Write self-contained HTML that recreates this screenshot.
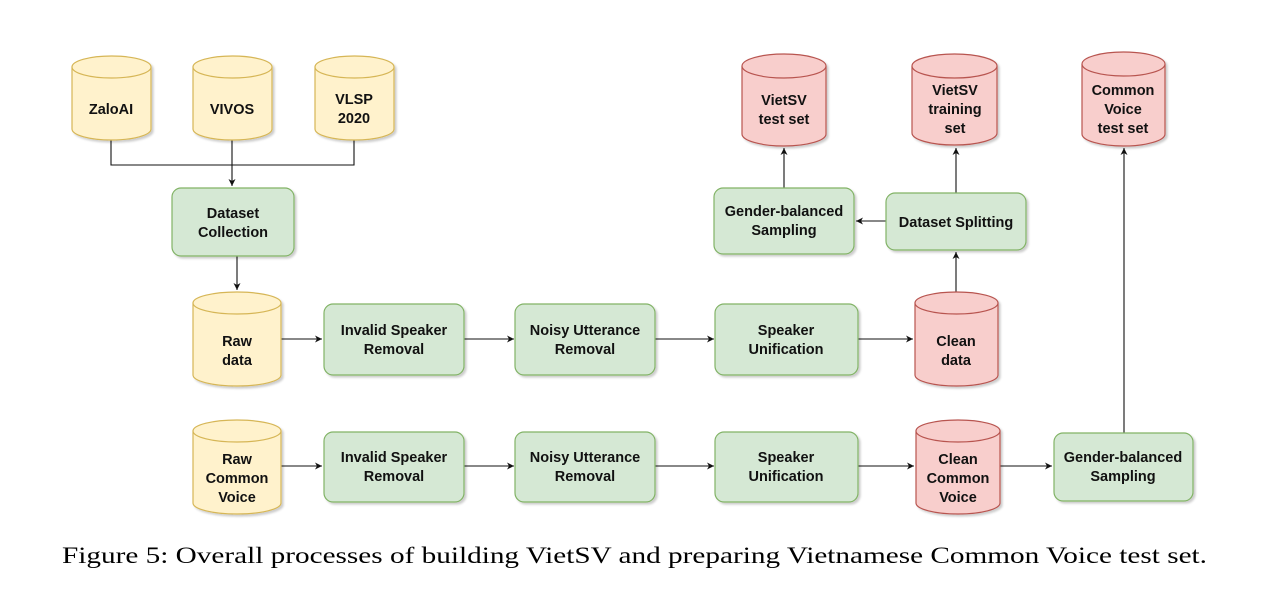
<!DOCTYPE html>
<html><head><meta charset="utf-8"><style>
html,body{margin:0;padding:0;background:#fff;}
svg{display:block;}
text{font-family:"Liberation Sans",Arial,Helvetica,sans-serif;font-weight:bold;font-size:14.5px;fill:#111;text-anchor:middle;}
.cap{font-family:"Liberation Serif","Times New Roman",serif;font-weight:normal;font-size:23px;text-anchor:start;fill:#000;}
.y{fill:#fff2cc;stroke:#d6b656;stroke-width:1.2}
.r{fill:#f8cecc;stroke:#b85450;stroke-width:1.2}
.g{fill:#d5e8d4;stroke:#82b366;stroke-width:1.2}
.l{stroke:#111;stroke-width:1.1;fill:none}
</style></head><body>
<svg width="1276" height="589" viewBox="0 0 1276 589" xmlns="http://www.w3.org/2000/svg">
<defs>
<marker id="a" markerWidth="8" markerHeight="8" refX="7" refY="4" orient="auto" markerUnits="userSpaceOnUse">
<path d="M0,0.5 L7,4 L0,7.5 L2,4 Z" fill="#111"/></marker>
<filter id="s" x="-10%" y="-10%" width="130%" height="130%"><feDropShadow dx="2" dy="2" stdDeviation="1" flood-color="#000" flood-opacity="0.2"/></filter>
</defs>

<path class="l" d="M111,140 V165 H354 V140"/>
<path class="l" d="M232,140 V186" marker-end="url(#a)"/>
<path class="l" d="M237,256 V290" marker-end="url(#a)"/>
<path class="l" d="M281,339 H322" marker-end="url(#a)"/>
<path class="l" d="M464,339 H514" marker-end="url(#a)"/>
<path class="l" d="M655,339 H714" marker-end="url(#a)"/>
<path class="l" d="M858,339 H913" marker-end="url(#a)"/>
<path class="l" d="M956,292 V252" marker-end="url(#a)"/>
<path class="l" d="M956,193 V148" marker-end="url(#a)"/>
<path class="l" d="M886,221 H856" marker-end="url(#a)"/>
<path class="l" d="M784,188 V148" marker-end="url(#a)"/>
<path class="l" d="M281,466 H322" marker-end="url(#a)"/>
<path class="l" d="M464,466 H514" marker-end="url(#a)"/>
<path class="l" d="M655,466 H714" marker-end="url(#a)"/>
<path class="l" d="M858,466 H914" marker-end="url(#a)"/>
<path class="l" d="M1000,466 H1052" marker-end="url(#a)"/>
<path class="l" d="M1124,433 V148" marker-end="url(#a)"/>

<g filter="url(#s)">
<path class="y" d="M72,67 A39.5,11 0 0 1 151,67 V129 A39.5,11 0 0 1 72,129 Z"/><path class="y" d="M72,67 A39.5,11 0 0 0 151,67"/>
<path class="y" d="M193,67 A39.5,11 0 0 1 272,67 V129 A39.5,11 0 0 1 193,129 Z"/><path class="y" d="M193,67 A39.5,11 0 0 0 272,67"/>
<path class="y" d="M315,67 A39.5,11 0 0 1 394,67 V129 A39.5,11 0 0 1 315,129 Z"/><path class="y" d="M315,67 A39.5,11 0 0 0 394,67"/>
<path class="y" d="M193,303 A44,11 0 0 1 281,303 V375 A44,11 0 0 1 193,375 Z"/><path class="y" d="M193,303 A44,11 0 0 0 281,303"/>
<path class="y" d="M193,431 A44,11 0 0 1 281,431 V503 A44,11 0 0 1 193,503 Z"/><path class="y" d="M193,431 A44,11 0 0 0 281,431"/>
<path class="r" d="M915,303 A41.5,11 0 0 1 998,303 V375 A41.5,11 0 0 1 915,375 Z"/><path class="r" d="M915,303 A41.5,11 0 0 0 998,303"/>
<path class="r" d="M916,431 A42,11 0 0 1 1000,431 V503 A42,11 0 0 1 916,503 Z"/><path class="r" d="M916,431 A42,11 0 0 0 1000,431"/>
<path class="r" d="M742,66 A42,12 0 0 1 826,66 V134 A42,12 0 0 1 742,134 Z"/><path class="r" d="M742,66 A42,12 0 0 0 826,66"/>
<path class="r" d="M912,66 A42.5,12 0 0 1 997,66 V133 A42.5,12 0 0 1 912,133 Z"/><path class="r" d="M912,66 A42.5,12 0 0 0 997,66"/>
<path class="r" d="M1082,64 A41.5,12 0 0 1 1165,64 V134 A41.5,12 0 0 1 1082,134 Z"/><path class="r" d="M1082,64 A41.5,12 0 0 0 1165,64"/>
<rect class="g" x="172" y="188" width="122" height="68" rx="9"/>
<rect class="g" x="324" y="304" width="140" height="71" rx="9"/>
<rect class="g" x="515" y="304" width="140" height="71" rx="9"/>
<rect class="g" x="715" y="304" width="143" height="71" rx="9"/>
<rect class="g" x="324" y="432" width="140" height="70" rx="9"/>
<rect class="g" x="515" y="432" width="140" height="70" rx="9"/>
<rect class="g" x="715" y="432" width="143" height="70" rx="9"/>
<rect class="g" x="1054" y="433" width="139" height="68" rx="9"/>
<rect class="g" x="714" y="188" width="140" height="66" rx="9"/>
<rect class="g" x="886" y="193" width="140" height="57" rx="9"/>
</g>

<text x="111" y="114">ZaloAI</text>
<text x="232" y="114">VIVOS</text>
<text x="354" y="104">VLSP</text><text x="354" y="123">2020</text>
<text x="233" y="218">Dataset</text><text x="233" y="237">Collection</text>
<text x="237" y="346">Raw</text><text x="237" y="365">data</text>
<text x="237" y="464">Raw</text><text x="237" y="483">Common</text><text x="237" y="502">Voice</text>
<text x="394" y="335">Invalid Speaker</text><text x="394" y="354">Removal</text>
<text x="585" y="335">Noisy Utterance</text><text x="585" y="354">Removal</text>
<text x="786" y="335">Speaker</text><text x="786" y="354">Unification</text>
<text x="394" y="462">Invalid Speaker</text><text x="394" y="481">Removal</text>
<text x="585" y="462">Noisy Utterance</text><text x="585" y="481">Removal</text>
<text x="786" y="462">Speaker</text><text x="786" y="481">Unification</text>
<text x="956" y="346">Clean</text><text x="956" y="365">data</text>
<text x="958" y="464">Clean</text><text x="958" y="483">Common</text><text x="958" y="502">Voice</text>
<text x="1123" y="462">Gender-balanced</text><text x="1123" y="481">Sampling</text>
<text x="784" y="216">Gender-balanced</text><text x="784" y="235">Sampling</text>
<text x="956" y="227">Dataset Splitting</text>
<text x="784" y="105">VietSV</text><text x="784" y="124">test set</text>
<text x="955" y="95">VietSV</text><text x="955" y="114">training</text><text x="955" y="133">set</text>
<text x="1123" y="95">Common</text><text x="1123" y="114">Voice</text><text x="1123" y="133">test set</text>

<text class="cap" x="62" y="563" textLength="1145" lengthAdjust="spacingAndGlyphs">Figure 5: Overall processes of building VietSV and preparing Vietnamese Common Voice test set.</text>
</svg>
</body></html>
